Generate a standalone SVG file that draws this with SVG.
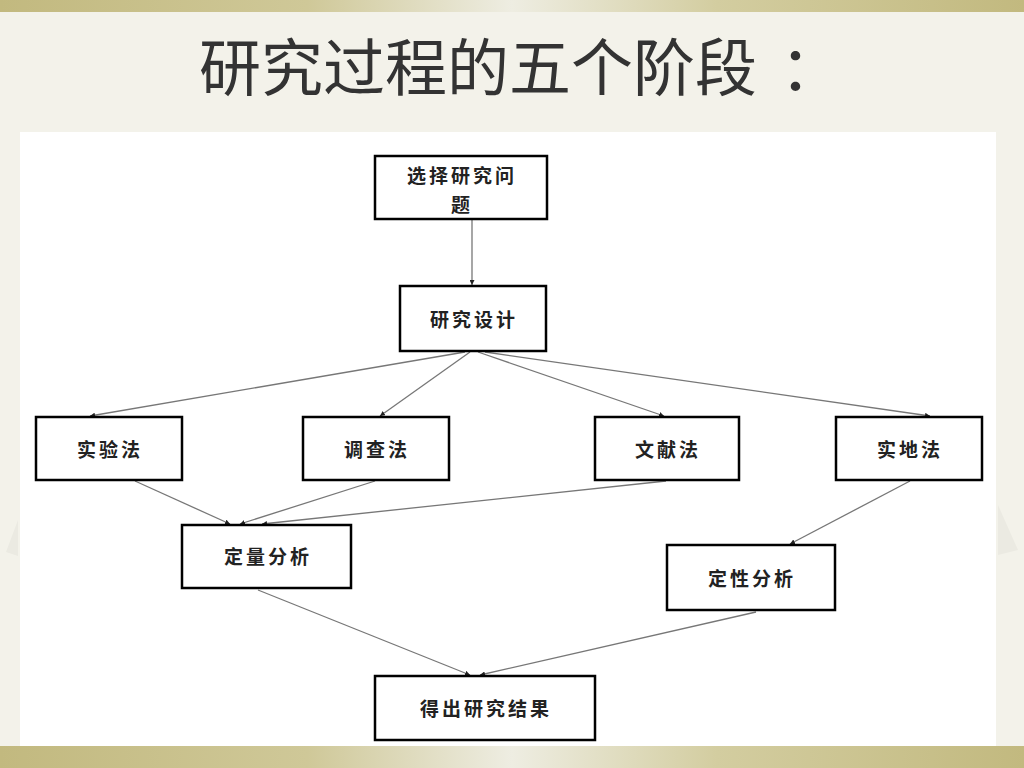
<svg xmlns="http://www.w3.org/2000/svg" width="1024" height="768" viewBox="0 0 1024 768">
<defs>
<linearGradient id="band" x1="0" y1="0" x2="1" y2="0">
<stop offset="0" stop-color="#c2b97f"/>
<stop offset="0.3" stop-color="#cfc898"/>
<stop offset="0.5" stop-color="#eeede2"/>
<stop offset="0.7" stop-color="#d3cda0"/>
<stop offset="1" stop-color="#c2b97f"/>
</linearGradient>
<marker id="arr" viewBox="0 0 6 6" refX="6" refY="3" markerWidth="5" markerHeight="5" orient="auto" markerUnits="userSpaceOnUse">
<path d="M0,0 L6,3 L0,6 z" fill="#222"/>
</marker>
<style>
.box{fill:#fff;stroke:#000;stroke-width:2.5}
.lbl{font-family:"Noto Sans CJK SC","Noto Sans CJK JP",sans-serif;font-weight:bold;font-size:19px;fill:#222;text-anchor:middle;letter-spacing:3px}
.ln{stroke:#777;stroke-width:1.3;fill:none;marker-end:url(#arr)}
</style>
</defs>
<rect width="1024" height="768" fill="#f3f2ea"/>
<rect x="0" y="0" width="1024" height="12" fill="url(#band)"/>
<rect x="0" y="746" width="1024" height="22" fill="url(#band)"/>
<polygon points="6,552 18,520 18,556" fill="#ebeae2"/>
<polygon points="1018,550 998,505 998,555" fill="#ebeae2"/>
<text x="199" y="91" font-family="'Noto Sans CJK SC','Noto Sans CJK JP',sans-serif" font-size="62" fill="#333">研究过程的五个阶段<tspan x="780">：</tspan></text>
<rect x="20" y="132" width="976" height="614" fill="#fff"/>
<g id="connectors">
<line class="ln" x1="472" y1="220" x2="472" y2="285"/>
<line class="ln" x1="465" y1="352" x2="90" y2="416"/>
<line class="ln" x1="470" y1="352" x2="380" y2="416"/>
<line class="ln" x1="478" y1="352" x2="664" y2="416"/>
<line class="ln" x1="485" y1="352" x2="930" y2="416"/>
<line class="ln" x1="135" y1="481" x2="230" y2="524"/>
<line class="ln" x1="375" y1="481" x2="240" y2="524"/>
<line class="ln" x1="666" y1="481" x2="262" y2="524"/>
<line class="ln" x1="910" y1="481" x2="790" y2="544"/>
<line class="ln" x1="258" y1="590" x2="470" y2="675"/>
<line class="ln" x1="756" y1="612" x2="480" y2="675"/>
</g>
<g id="n-select"><rect class="box" x="375" y="156" width="172" height="63"/><text class="lbl" x="462" y="183">选择研究问</text><text class="lbl" x="462" y="212">题</text></g>
<g id="n-design"><rect class="box" x="400" y="286" width="146" height="65"/><text class="lbl" x="474" y="327">研究设计</text></g>
<g id="n-exp"><rect class="box" x="36" y="417" width="146" height="63"/><text class="lbl" x="110" y="457">实验法</text></g>
<g id="n-survey"><rect class="box" x="303" y="417" width="146" height="63"/><text class="lbl" x="377" y="457">调查法</text></g>
<g id="n-lit"><rect class="box" x="595" y="417" width="144" height="63"/><text class="lbl" x="668" y="457">文献法</text></g>
<g id="n-field"><rect class="box" x="836" y="417" width="146" height="63"/><text class="lbl" x="910" y="457">实地法</text></g>
<g id="n-quant"><rect class="box" x="182" y="525" width="169" height="63"/><text class="lbl" x="268" y="564">定量分析</text></g>
<g id="n-qual"><rect class="box" x="667" y="545" width="168" height="65"/><text class="lbl" x="752" y="586">定性分析</text></g>
<g id="n-result"><rect class="box" x="375" y="676" width="220" height="64"/><text class="lbl" x="486" y="716">得出研究结果</text></g>
</svg>
